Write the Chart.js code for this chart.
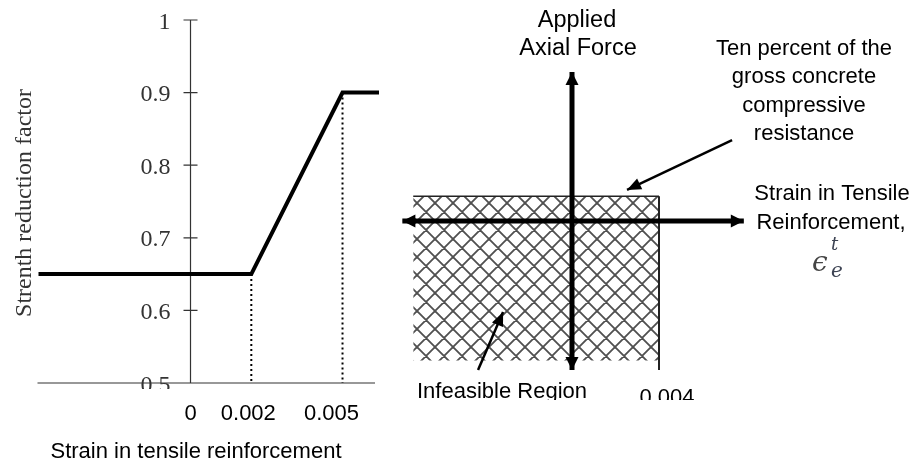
<!DOCTYPE html>
<html>
<head>
<meta charset="utf-8">
<script src="https://cdn.jsdelivr.net/npm/chart.js@4.4.0/dist/chart.umd.min.js"></script>
<style>
  body { margin: 0; background: #fff; }
  #wrap { position: relative; width: 917px; height: 471px; }
  canvas { position: absolute; left: 0; top: 0; }
</style>
</head>
<body>
<div id="wrap">
  <canvas id="phiChart" width="917" height="471"></canvas>
  <canvas id="regionChart" width="917" height="471"></canvas>
</div>
<script>
// left panel: strength reduction factor vs strain
const strainVals = [-0.005, 0.002, 0.005, 0.0062];
const phiVals = [0.65, 0.65, 0.9, 0.9];
const yTicks = [0.5, 0.6, 0.7, 0.8, 0.9, 1];
const yTickLabels = ['0.5', '0.6', '0.7', '0.8', '0.9', '1'];
const xTicks = [0, 0.002, 0.005];
const xTickLabels = ['0', '0.002', '0.005'];
const xLabelShift = [0, -3, -11]; // labels sit a bit left of their marks in the original

// right panel: infeasible region sketch (force in units of gross resistance)
const forceLimit = 0.1;        // ten percent of gross compressive resistance
const strainLimit = 0.004;
const regionLeft = -0.0073;
const regionBottom = -0.562;
const axisXRange = [-0.0078, 0.0079];
const axisYRange = [-0.6, 0.6];
const noteArrowTop = [[0.00736, 0.326], [0.00253, 0.125]];
const noteArrowBottom = [[-0.00432, -0.6], [-0.00317, -0.366]];

const pts = (xs, ys) => xs.map((x, i) => ({ x: x, y: ys[i] }));

// ---- left chart ----
const phiAxes = {
  id: 'phiAxes',
  beforeDatasetsDraw(chart) {
    const { ctx, scales: { x, y } } = chart;
    ctx.save();
    ctx.strokeStyle = '#333';
    ctx.lineWidth = 1.2;
    const x0 = x.getPixelForValue(0);
    const yb = y.getPixelForValue(0.5);
    ctx.beginPath();
    ctx.moveTo(x.left - 1, yb); ctx.lineTo(x.right - 4, yb);
    ctx.moveTo(x0, yb); ctx.lineTo(x0, y.getPixelForValue(1));
    yTicks.forEach(v => {
      const py = y.getPixelForValue(v);
      ctx.moveTo(x0 - 7, py); ctx.lineTo(x0 + 7, py);
    });
    ctx.stroke();
    ctx.restore();
  },
  afterDraw(chart) {
    const { ctx, scales: { x, y } } = chart;
    const x0 = x.getPixelForValue(0);
    ctx.save();
    // y tick labels (serif)
    ctx.font = '24px "Liberation Serif"';
    ctx.fillStyle = '#333';
    ctx.textAlign = 'right';
    ctx.textBaseline = 'alphabetic';
    yTicks.forEach((v, i) => {
      const py = y.getPixelForValue(v);
      ctx.save();
      if (v === 0.5) { ctx.beginPath(); ctx.rect(0, 0, 400, py + 6); ctx.clip(); }
      ctx.fillText(yTickLabels[i], x0 - 20, py + 8.5);
      ctx.restore();
    });
    // y title
    ctx.save();
    ctx.translate(31, 203);
    ctx.rotate(-Math.PI / 2);
    ctx.textAlign = 'center';
    ctx.fillText('Strenth reduction factor', 0, 0);
    ctx.restore();
    // x tick labels (sans)
    ctx.font = '22px "Liberation Sans"';
    ctx.fillStyle = '#000';
    ctx.textAlign = 'center';
    xTicks.forEach((v, i) => {
      ctx.fillText(xTickLabels[i], x.getPixelForValue(v) + xLabelShift[i], 420);
    });
    ctx.fillText('Strain in tensile reinforcement', 196, 458);
    ctx.restore();
  }
};

new Chart(document.getElementById('phiChart'), {
  type: 'scatter',
  data: {
    datasets: [
      {
        data: pts(strainVals, phiVals),
        showLine: true, borderColor: '#000', borderWidth: 4,
        pointRadius: 0, borderJoinStyle: 'miter', clip: false
      },
      {
        data: pts([0.002, 0.002], [0.65, 0.5]),
        showLine: true, borderColor: '#000', borderWidth: 2, borderDash: [2, 3],
        pointRadius: 0
      },
      {
        data: pts([0.005, 0.005], [0.9, 0.5]),
        showLine: true, borderColor: '#000', borderWidth: 2, borderDash: [2, 3],
        pointRadius: 0
      }
    ]
  },
  options: {
    responsive: false, animation: false, events: [],
    layout: { padding: { left: 38.5, right: 538, top: 20, bottom: 88 } },
    plugins: { legend: { display: false }, tooltip: { enabled: false } },
    scales: {
      x: { type: 'linear', min: -0.005, max: 0.0062, display: false },
      y: { type: 'linear', min: 0.5, max: 1, display: false }
    }
  },
  plugins: [phiAxes]
});

// ---- right chart ----
function crossHatch() {
  const c = document.createElement('canvas');
  c.width = 18; c.height = 18;
  const g = c.getContext('2d');
  g.strokeStyle = '#505050';
  g.lineWidth = 1.8;
  g.beginPath();
  for (let k = -2; k <= 2; k++) {
    g.moveTo(12 + 18 * k - 30, 14 - 30); g.lineTo(12 + 18 * k + 30, 14 + 30);
    g.moveTo(12 + 18 * k - 30, 14 + 30); g.lineTo(12 + 18 * k + 30, 14 - 30);
  }
  g.stroke();
  return g.createPattern(c, 'repeat');
}

function head(ctx, from, to, len, half) {
  const a = Math.atan2(to.y - from.y, to.x - from.x);
  ctx.beginPath();
  ctx.moveTo(to.x, to.y);
  ctx.lineTo(to.x - len * Math.cos(a) + half * Math.sin(a), to.y - len * Math.sin(a) - half * Math.cos(a));
  ctx.lineTo(to.x - len * Math.cos(a) - half * Math.sin(a), to.y - len * Math.sin(a) + half * Math.cos(a));
  ctx.closePath();
  ctx.fill();
}

const regionDecor = {
  id: 'regionDecor',
  afterDatasetsDraw(chart) {
    const ctx = chart.ctx;
    ctx.save();
    ctx.fillStyle = '#000';
    chart.data.datasets.forEach((ds, i) => {
      if (!ds.arrows) return;
      const el = chart.getDatasetMeta(i).data;
      const a = { x: el[0].x, y: el[0].y }, b = { x: el[el.length - 1].x, y: el[el.length - 1].y };
      if (ds.arrows.includes('end')) head(ctx, a, b, ds.headLen, ds.headHalf);
      if (ds.arrows.includes('start')) head(ctx, b, a, ds.headLen, ds.headHalf);
    });
    ctx.restore();
  },
  afterDraw(chart) {
    const ctx = chart.ctx;
    ctx.save();
    ctx.fillStyle = '#000';
    ctx.textAlign = 'center';
    ctx.font = '23.5px "Liberation Sans"';
    ctx.fillText('Applied', 577, 27);
    ctx.fillText('Axial Force', 578, 55);
    ctx.font = '22px "Liberation Sans"';
    ['Ten percent of the', 'gross concrete', 'compressive', 'resistance'].forEach((t, i) => {
      ctx.fillText(t, 804, 55 + 28.3 * i);
    });
    ctx.fillText('Strain in Tensile', 832, 200);
    ctx.fillText('Reinforcement,', 831, 229);
    ctx.save();
    ctx.beginPath(); ctx.rect(400, 0, 517, 400); ctx.clip();
    ctx.fillText('Infeasible Region', 502, 398);
    ctx.fillText('0.004', 667, 404);
    ctx.restore();
    // epsilon_e^t
    ctx.textAlign = 'left';
    ctx.fillStyle = '#444';
    ctx.font = 'italic 28px "DejaVu Serif"';
    ctx.fillText('\u03F5', 812, 271);
    ctx.fillStyle = '#3c4252';
    ctx.font = 'italic 18px "DejaVu Serif"';
    ctx.fillText('t', 831, 250);
    ctx.font = 'italic 20px "DejaVu Serif"';
    ctx.fillText('e', 831, 277);
    ctx.restore();
  }
};

new Chart(document.getElementById('regionChart'), {
  type: 'scatter',
  data: {
    datasets: [
      { // vertical axis
        data: pts([0, 0], axisYRange),
        showLine: true, borderColor: '#000', borderWidth: 5, pointRadius: 0, clip: false,
        arrows: ['start', 'end'], headLen: 13, headHalf: 6.5
      },
      { // horizontal axis
        data: pts(axisXRange, [0, 0]),
        showLine: true, borderColor: '#000', borderWidth: 5, pointRadius: 0, clip: false,
        arrows: ['start', 'end'], headLen: 13, headHalf: 6.5
      },
      { // note arrow to the force limit
        data: pts(noteArrowTop.map(p => p[0]), noteArrowTop.map(p => p[1])),
        showLine: true, borderColor: '#000', borderWidth: 2.5, pointRadius: 0, clip: false,
        arrows: ['end'], headLen: 14, headHalf: 6
      },
      { // note arrow to the region
        data: pts(noteArrowBottom.map(p => p[0]), noteArrowBottom.map(p => p[1])),
        showLine: true, borderColor: '#000', borderWidth: 2.5, pointRadius: 0, clip: false,
        arrows: ['end'], headLen: 14, headHalf: 6
      },
      { // strain limit edge
        data: pts([strainLimit, strainLimit], [forceLimit, axisYRange[0]]),
        showLine: true, borderColor: '#222', borderWidth: 2, pointRadius: 0, clip: false
      },
      { // hatched infeasible region, top edge at the force limit
        data: pts([regionLeft, strainLimit], [forceLimit, forceLimit]),
        showLine: true, borderColor: '#222', borderWidth: 1.5, pointRadius: 0, clip: false,
        fill: { value: regionBottom }, backgroundColor: crossHatch()
      }
    ]
  },
  options: {
    responsive: false, animation: false, events: [],
    layout: { padding: { left: 398, right: 171, top: 72, bottom: 101 } },
    plugins: { legend: { display: false }, tooltip: { enabled: false } },
    scales: {
      x: { type: 'linear', min: -0.008, max: 0.008, display: false },
      y: { type: 'linear', min: -0.6, max: 0.6, display: false }
    }
  },
  plugins: [regionDecor]
});
</script>
</body>
</html>
